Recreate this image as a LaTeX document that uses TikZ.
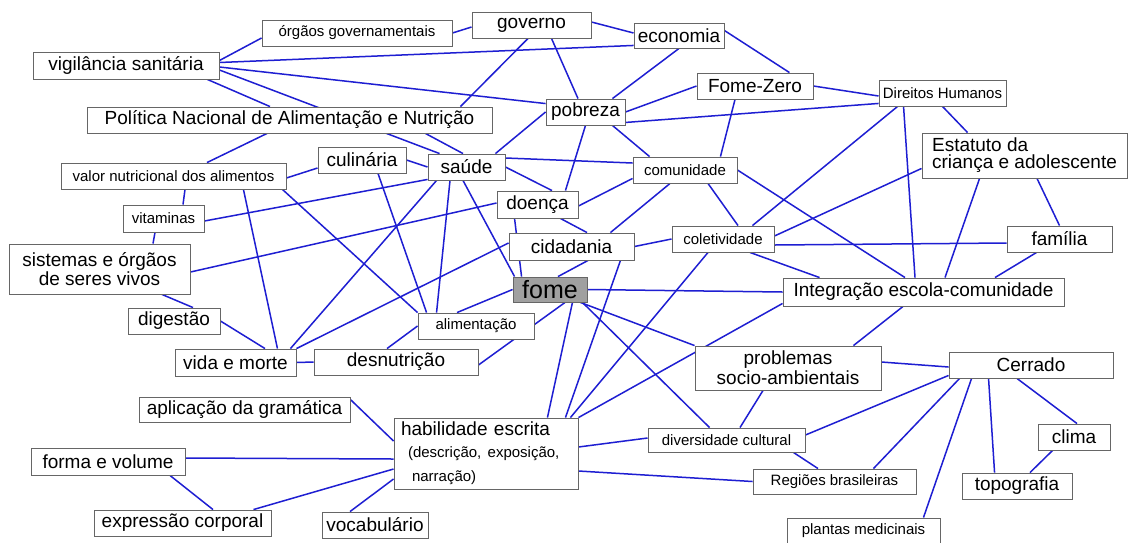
\documentclass[tikz,border=0pt]{standalone}
\usepackage{fontspec}
\setmainfont{Liberation Sans}
\usetikzlibrary{backgrounds}

\definecolor{linkblue}{RGB}{30,30,210}
\definecolor{fomegray}{RGB}{160,160,160}
\newcommand{\smallfont}{\fontsize{15}{17}\selectfont}

\begin{document}
\begin{tikzpicture}[x=1pt, y=-1pt,
    concept/.style={draw=black!60, line width=0.9pt, fill=white, inner sep=0pt,
        font=\fontsize{19}{21}\selectfont},
    minor/.style={concept, font=\smallfont},
    boxsize/.style 2 args={minimum width=#1pt, minimum height=#2pt},
    link/.style={draw=linkblue, line width=1.5pt}]

    \useasboundingbox (0,0) rectangle (1131,542);

    % top row
    \node[minor, boxsize={190}{26}] (org) at (357,33) {órgãos governamentais};
    \node[concept, boxsize={119}{26}] (gov) at (531.5,25) {governo};
    \node[concept, boxsize={90}{25}] (eco) at (679,35.5) {economia};
    \node[concept, boxsize={186}{27}] (vig) at (126,65.5) {vigilância sanitária};
    \node[concept, boxsize={116}{26}] (fz) at (755,86) {Fome-Zero};
    \node[minor, boxsize={127}{26}] (dh) at (942.5,93) {Direitos Humanos};
    \node[concept, boxsize={79}{26}] (pob) at (585.5,112) {pobreza};
    \node[concept, boxsize={405}{26}] (pna) at (289.5,120) {Política Nacional de Alimentação e Nutrição};
    \node[concept, boxsize={205}{45}, align=left, font=\fontsize{19}{17}\selectfont] (eca) at (1024.5,155.5)
        {Estatuto da\\criança e adolescente};

    % middle
    \node[concept, boxsize={88}{26}] (cul) at (362,160) {culinária};
    \node[concept, boxsize={77}{26}] (sau) at (466.5,167) {saúde};
    \node[minor, boxsize={104}{26}] (com) at (685,170) {comunidade};
    \node[minor, boxsize={225}{26}] (vn) at (173.5,176) {valor nutricional dos alimentos};
    \node[minor, boxsize={81}{27}] (vit) at (163.5,218.5) {vitaminas};
    \node[concept, boxsize={81}{27}] (doe) at (537.5,204.5) {doença};
    \node[concept, boxsize={125}{27}] (cid) at (571.5,246.5) {cidadania};
    \node[minor, boxsize={102}{26}] (col) at (723,239) {coletividade};
    \node[concept, boxsize={105}{26}] (fam) at (1059.5,239) {família};
    \node[concept, boxsize={181}{50}, align=center, font=\fontsize{19}{19}\selectfont] (sis) at (99.5,269)
        {sistemas e órgãos\\de seres vivos};
    \node[concept, boxsize={74}{25}, fill=fomegray, font=\fontsize{25}{27}\selectfont] (fome) at (550,289.5) {fome};
    \node[concept, boxsize={281}{28}] (int) at (923.5,292) {Integração escola-comunidade};
    \node[concept, boxsize={92}{26}] (dig) at (174,321) {digestão};
    \node[minor, boxsize={116}{26}] (ali) at (476,326) {alimentação};
    \node[concept, boxsize={121}{27}] (vm) at (235.5,362.5) {vida e morte};
    \node[concept, boxsize={164}{26}] (des) at (396,362) {desnutrição};
    \node[concept, boxsize={186}{44}, align=center, font=\fontsize{19}{20}\selectfont] (pro) at (788,368)
        {problemas\\socio-ambientais};
    \node[concept, boxsize={164}{26}] (cer) at (1031,365) {Cerrado};

    % bottom
    \node[concept, boxsize={184}{71}, text width=170pt, align=left, font=\fontsize{19}{20}\selectfont] (hab) at (486,453.5)
        {habilidade escrita\\[2pt]
         {\smallfont\hspace*{7pt}(descrição, exposição,}\\[4pt]
         {\smallfont\hspace*{11pt}narração)}};
    \node[concept, boxsize={211}{25}] (apl) at (244.5,409.5) {aplicação da gramática};
    \node[minor, boxsize={157}{24}] (div) at (726.5,440) {diversidade cultural};
    \node[concept, boxsize={154}{27}] (fv) at (108,461.5) {forma e volume};
    \node[concept, boxsize={72}{26}] (cli) at (1074,437) {clima};
    \node[minor, boxsize={163}{25}] (reg) at (834.5,481.5) {Regiões brasileiras};
    \node[concept, boxsize={110}{26}] (top) at (1017,486) {topografia};
    \node[concept, boxsize={177}{26}] (exp) at (182.5,523) {expressão corporal};
    \node[concept, boxsize={106}{26}] (voc) at (375,525) {vocabulário};
    \node[minor, boxsize={153}{25}] (pla) at (863.5,530.5) {plantas medicinais};

    \begin{pgfonlayer}{background}
        \fill[white] (0,0) rectangle (1131,542);

        % vigilância sanitária
        \draw[link] ([yshift=5pt]vig.east) -- ([yshift=-5pt]org.west);
        \draw[link] ([yshift=3pt]vig.east) -- ([yshift=3pt]eco.south west);
        \draw[link] ([yshift=-1.5pt]vig.east) -- ([yshift=-5pt]pob.north west);
        \draw[link] ([yshift=-4.5pt]vig.east) -- ([xshift=12pt]sau.north west);
        \draw[link] ([xshift=-12pt]vig.south east) -- ([xshift=-19.5pt]pna.north);

        % governo, economia, Fome-Zero, Direitos Humanos
        \draw[link] (org.east) -- ([yshift=-2pt]gov.west);
        \draw[link] ([yshift=3pt]gov.east) -- ([yshift=2.5pt]eco.west);
        \draw[link] ([xshift=-3.5pt]gov.south) -- ([xshift=-32pt]pna.north east);
        \draw[link] ([xshift=20pt]gov.south) -- ([xshift=-7.5pt]pob.north);
        \draw[link] (eco.south) -- ([xshift=-13pt]pob.north east);
        \draw[link] ([yshift=5pt]eco.east) -- ([xshift=-24pt]fz.north east);
        \draw[link] (fz.west) -- (pob.east);
        \draw[link] (fz.east) -- ([yshift=-3pt]dh.west);
        \draw[link] ([yshift=3pt]dh.south west) -- ([yshift=3pt]pob.south east);
        \draw[link] ([xshift=-20pt]fz.south) -- ([xshift=-17pt]com.north east);
        \draw[link] ([xshift=19pt]dh.south west) -- ([xshift=-22pt]col.north east);
        \draw[link] ([xshift=25pt]dh.south west) -- ([xshift=-8.5pt]int.north);
        \draw[link] (dh.south) -- ([xshift=46pt]eca.north west);

        % Estatuto, família
        \draw[link] ([yshift=10pt]eca.south west) -- ([yshift=3pt]col.east);
        \draw[link] ([xshift=58pt]eca.south west) -- ([xshift=21.5pt]int.north);
        \draw[link] ([xshift=12.5pt]eca.south) -- (fam.north);
        \draw[link] ([xshift=30pt]fam.south west) -- ([xshift=71.5pt]int.north);
        \draw[link] ([yshift=-6pt]col.east) -- ([yshift=-4pt]fam.west);

        % comunidade, pobreza, saúde, doença, cidadania
        \draw[link] (com.east) -- ([xshift=-18.5pt]int.north);
        \draw[link] ([yshift=9pt]sau.east) -- ([yshift=7pt]com.west);
        \draw[link] ([xshift=-13pt]pob.south east) -- ([xshift=17pt]com.north west);
        \draw[link] (pob.west) -- ([xshift=-10pt]sau.north east);
        \draw[link] (pob.south) -- ([xshift=-13pt]doe.north east);
        \draw[link] (sau.east) -- ([xshift=14.5pt]doe.north);
        \draw[link] ([xshift=-18pt]doe.south east) -- ([xshift=15.5pt]cid.north);
        \draw[link] ([xshift=-15pt]com.south) -- ([xshift=-24pt]cid.north east);
        \draw[link] ([yshift=5pt]com.south west) -- ([yshift=-1.5pt]doe.east);
        \draw[link] ([xshift=23pt]com.south) -- ([xshift=15pt]col.north);
        \draw[link] (cid.east) -- (col.west);

        % fome
        \draw[link] ([xshift=18pt]doe.south west) -- ([xshift=9pt]fome.north west);
        \draw[link] ([xshift=-3.5pt]sau.south) -- ([xshift=2pt]fome.north west);
        \draw[link] ([xshift=16.5pt]cid.south) -- ([xshift=8pt]fome.north);
        \draw[link] (fome.west) -- ([xshift=-19pt]ali.north);
        \draw[link] ([xshift=15pt]fome.south) -- ([yshift=-3pt]des.east);
        \draw[link] (fome.east) -- (int.west);
        \draw[link] ([xshift=-7pt]fome.south east) -- (pro.north west);
        \draw[link] ([xshift=-5pt]fome.south east) -- ([xshift=62pt]div.north west);
        \draw[link] ([xshift=-15pt]fome.south east) -- ([xshift=-31pt]hab.north east);

        % left side
        \draw[link] ([yshift=-3pt]sis.east) -- ([yshift=1.5pt]doe.west);
        \draw[link] ([yshift=3.5pt]cid.west) -- (vm.north east);
        \draw[link] ([xshift=9pt]sau.south west) -- ([xshift=-6pt]vm.north east);
        \draw[link] ([xshift=-43pt]vn.south east) -- ([xshift=-19pt]vm.north east);
        \draw[link] (dig.east) -- ([xshift=29.5pt]vm.north);
        \draw[link] (vm.east) -- (des.west);
        \draw[link] ([xshift=-4pt]vn.south east) -- (ali.north west);
        \draw[link] ([xshift=11.5pt]vn.south) -- ([xshift=19.5pt]vit.north);
        \draw[link] ([yshift=-2pt]vn.east) -- ([yshift=-8pt]cul.west);
        \draw[link] ([xshift=-22.5pt]pna.south) -- ([xshift=33.5pt]vn.north);
        \draw[link] ([xshift=-67pt]pna.south east) -- ([xshift=-3.5pt]sau.north);
        \draw[link] (cul.east) -- (sau.west);
        \draw[link] ([xshift=16pt]cul.south) -- ([xshift=9pt]ali.north west);
        \draw[link] ([xshift=-16.5pt]sau.south) -- ([xshift=19pt]ali.north west);
        \draw[link] ([yshift=-2.5pt]vit.east) -- ([yshift=1pt]sau.south west);
        \draw[link] ([xshift=-8.5pt]vit.south) -- ([xshift=53.5pt]sis.north);
        \draw[link] ([xshift=62.5pt]sis.south) -- ([xshift=19pt]dig.north);
        \draw[link] (ali.west) -- ([xshift=-9pt]des.north);

        % habilidade escrita
        \draw[link] ([xshift=-14pt]cid.south east) -- ([xshift=-13pt]hab.north east);
        \draw[link] ([xshift=-15pt]col.south) -- ([xshift=-8pt]hab.north east);
        \draw[link] ([yshift=3pt]int.south west) -- (hab.north east);
        \draw[link] ([xshift=27pt]col.south) -- ([xshift=37pt]int.north west);
        \draw[link] ([yshift=6.5pt]hab.east) -- ([yshift=2pt]div.west);
        \draw[link] ([yshift=-17.5pt]hab.east) -- (reg.west);
        \draw[link] ([yshift=-3pt]apl.north east) -- ([yshift=12.5pt]hab.west);
        \draw[link] ([yshift=3.5pt]fv.east) -- ([yshift=-5.5pt]hab.west);
        \draw[link] ([xshift=-18pt]exp.north east) -- ([yshift=-15.5pt]hab.west);
        \draw[link] ([xshift=-25pt]voc.north) -- ([yshift=-25.5pt]hab.west);
        \draw[link] ([xshift=62pt]fv.south) -- ([xshift=30.5pt]exp.north);

        % problemas, Cerrado
        \draw[link] ([xshift=-28pt]pro.north east) -- ([xshift=-20.5pt]int.south);
        \draw[link] ([yshift=6pt]pro.east) -- ([yshift=-2pt]cer.west);
        \draw[link] ([xshift=-25pt]pro.south) -- ([xshift=13.5pt]div.north);
        \draw[link] ([yshift=3pt]cer.south west) -- ([yshift=5pt]div.east);
        \draw[link] ([xshift=11pt]cer.south west) -- ([xshift=-43pt]reg.north east);
        \draw[link] ([xshift=23pt]cer.south west) -- ([xshift=-17pt]pla.north east);
        \draw[link] ([xshift=40pt]cer.south west) -- ([xshift=33pt]top.north west);
        \draw[link] ([xshift=-14pt]cer.south) -- ([xshift=3pt]cli.north);
        \draw[link] ([xshift=15pt]cli.south west) -- ([xshift=13pt]top.north);
        \draw[link] ([xshift=-12pt]div.south east) -- ([xshift=-16.5pt]reg.north);
    \end{pgfonlayer}
\end{tikzpicture}
\end{document}
